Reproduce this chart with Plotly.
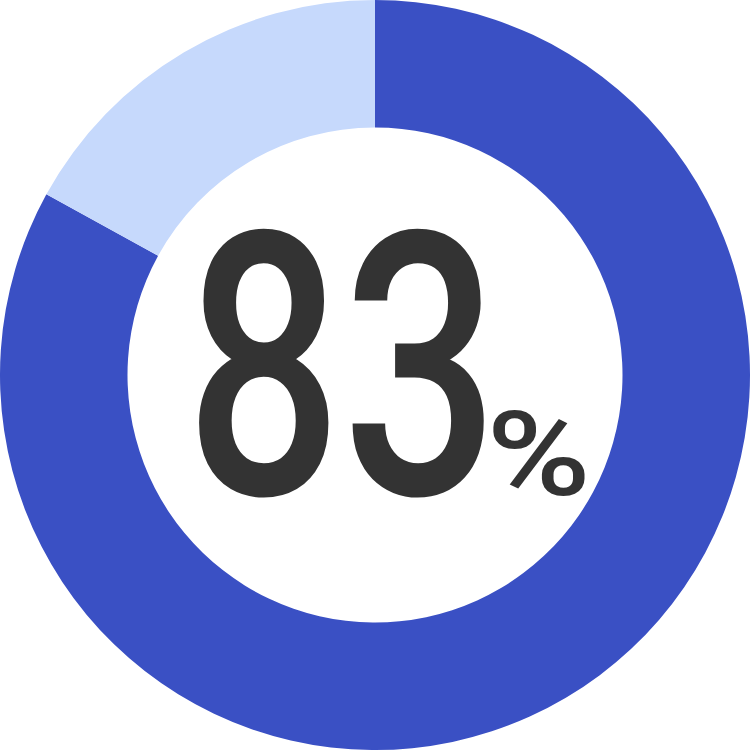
import plotly.graph_objects as go

# Share of respondents
labels = ["Yes", "No"]
values = [83, 17]
colors = ["#3a50c4", "#c6d9fc"]
big_text = "83"
unit_text = "%"

fig = go.Figure(go.Pie(
    labels=labels,
    values=values,
    hole=0.66,
    sort=False,
    direction="clockwise",
    rotation=0,
    marker=dict(colors=colors, line=dict(width=0)),
    textinfo="none",
    hoverinfo="label+percent",
    showlegend=False,
    domain=dict(x=[0, 1], y=[0, 1]),
))

fig.add_annotation(
    text=big_text, x=0.456, y=0.509, xref="paper", yref="paper",
    showarrow=False, xanchor="center", yanchor="middle",
    font=dict(family="Roboto", size=368, color="#333333", weight=500),
)
fig.add_annotation(
    text=unit_text, x=0.659, y=0.30, xref="paper", yref="paper",
    showarrow=False, xanchor="left", yanchor="bottom",
    font=dict(family="Roboto", size=116, color="#333333", weight=500),
)

fig.update_layout(
    width=750, height=750,
    margin=dict(l=0, r=0, t=0, b=0),
    paper_bgcolor="white",
    plot_bgcolor="white",
)

# drop the page margin and narrow the big number like the condensed face in the original
post = """
document.body.style.margin = '0';
var t = document.querySelectorAll('.annotation-text');
t[0].style.transformBox = 'fill-box';
t[0].style.transformOrigin = 'center';
t[0].style.transform = 'scaleX(0.75)';
t[1].style.transformBox = 'fill-box';
t[1].style.transformOrigin = 'center';
t[1].style.transform = 'scaleX(1.22)';
"""

fig.write_html("out.html", post_script=post, config={"displayModeBar": False})
